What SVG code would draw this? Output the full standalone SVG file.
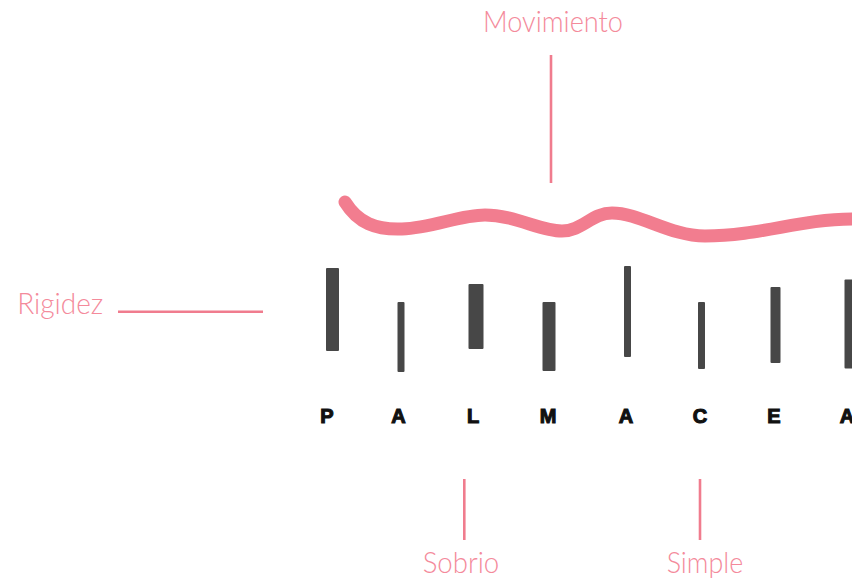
<svg xmlns="http://www.w3.org/2000/svg" width="852" height="582" viewBox="0 0 852 582">
  <style>
    .lbl { font-family: Lato, "Open Sans", "Liberation Sans", sans-serif; font-weight: 300; font-size: 29px; fill: #F48A9B; }
    .ltr { font-family: "Liberation Sans", Arial, sans-serif; font-weight: 900; font-size: 20px; fill: #111111; stroke: #111111; stroke-width: 1.1; text-anchor: middle; }
    .bar { fill: #474747; }
    .conn { stroke: #F07C8E; stroke-width: 2.6; fill: none; }
    .wave { stroke: #F27D8F; stroke-width: 13; fill: none; stroke-linecap: round; }
  </style>
  <rect width="852" height="582" fill="#ffffff"/>

  <g id="wave">
    <path class="wave" d="M345,202 C358,223 376,230 402,229 C432,228 460,215 485,215 C515,215 540,231 562,231 C582,231 592,213 612,213 C640,213 670,236 705,236 C760,236 800,219 852,219"/>
  </g>

  <g id="bars">
    <rect class="bar" x="326" y="268" width="13" height="83" rx="1"/>
    <rect class="bar" x="397.5" y="302" width="7" height="70" rx="1"/>
    <rect class="bar" x="468.5" y="284" width="15" height="65" rx="1"/>
    <rect class="bar" x="542.5" y="302" width="13" height="69" rx="1"/>
    <rect class="bar" x="624" y="266" width="7" height="91" rx="1"/>
    <rect class="bar" x="698" y="302" width="7" height="67" rx="1"/>
    <rect class="bar" x="770.5" y="287" width="10" height="76" rx="1"/>
    <rect class="bar" x="844.5" y="279.5" width="12" height="89" rx="1"/>
  </g>

  <g id="letters">
    <text class="ltr" x="327" y="423">P</text>
    <text class="ltr" x="398.5" y="423">A</text>
    <text class="ltr" x="473" y="423">L</text>
    <text class="ltr" x="548" y="423">M</text>
    <text class="ltr" x="626" y="423">A</text>
    <text class="ltr" x="700" y="423">C</text>
    <text class="ltr" x="774" y="423">E</text>
    <text class="ltr" x="847" y="423">A</text>
  </g>

  <g id="connectors">
    <line class="conn" x1="551" y1="55" x2="551" y2="183"/>
    <line class="conn" x1="118" y1="311.7" x2="263" y2="311.7"/>
    <line class="conn" x1="464.3" y1="479" x2="464.3" y2="540"/>
    <line class="conn" x1="700" y1="479" x2="700" y2="540"/>
  </g>

  <g id="movimiento">
    <text class="lbl" x="553" y="31.7" text-anchor="middle" textLength="140" lengthAdjust="spacingAndGlyphs">Movimiento</text>
  </g>
  <g id="rigidez">
    <text class="lbl" x="17.3" y="314.3" textLength="86" lengthAdjust="spacingAndGlyphs">Rigidez</text>
  </g>
  <g id="sobrio">
    <text class="lbl" x="461" y="573.3" text-anchor="middle" textLength="76.6" lengthAdjust="spacingAndGlyphs">Sobrio</text>
  </g>
  <g id="simple">
    <text class="lbl" x="705" y="573.3" text-anchor="middle" textLength="76.6" lengthAdjust="spacingAndGlyphs">Simple</text>
  </g>
</svg>
